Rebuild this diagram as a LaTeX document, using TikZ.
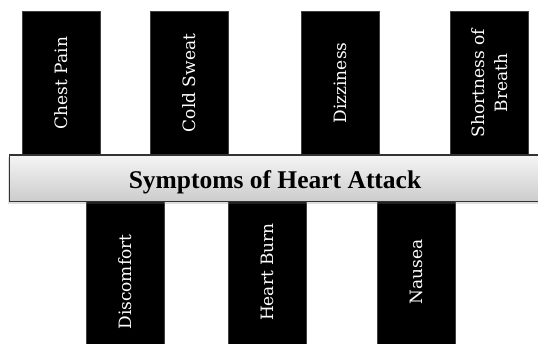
\documentclass[tikz,border=0pt]{standalone}
\usepackage{fontspec}
\setmainfont{DejaVu Serif}
\newfontfamily\titlefont{Liberation Serif}
\usetikzlibrary{shadows}
\begin{document}
\begin{tikzpicture}[x=1pt,y=-1pt,
  sym/.style={rectangle, fill=black, draw=gray!50!black, line width=0.4pt,
    text=white, rotate=90, minimum width=144pt, minimum height=78pt,
    inner sep=0pt, align=center, font=\fontsize{17}{23}\selectfont},
  banner/.style={rectangle, draw=black!80, line width=1.3pt,
    top color=gray!8, bottom color=gray!40,
    minimum width=530.8pt, minimum height=46.5pt, inner sep=0pt,
    text height=21.4pt, text depth=0pt,
    font=\titlefont\bfseries\fontsize{25.5}{30}\selectfont,
    drop shadow={shadow xshift=-1.5pt, shadow yshift=-2pt, opacity=0.25}}]
\clip (0,0) rectangle (538,344);
\fill[white] (0,0) rectangle (538,344);
% top boxes
\node[sym] (chest) at (61,83) {Chest Pain};
\node[sym] (cold) at (189,83) {Cold Sweat};
\node[sym] (dizzy) at (340.5,83) {Dizziness};
\node[sym] (breath) at (489.5,83) {Shortness of\\Breath};
% bottom boxes
\node[sym] (discomfort) at (124.8,272) {Discomfort\hspace*{20pt}};
\node[sym] (heartburn) at (267,272) {Heart Burn};
\node[sym] (nausea) at (416.5,272) {Nausea};
% banner
\node[banner] (title) at (275,178.3) {Symptoms of Heart Attack};
\end{tikzpicture}
\end{document}
